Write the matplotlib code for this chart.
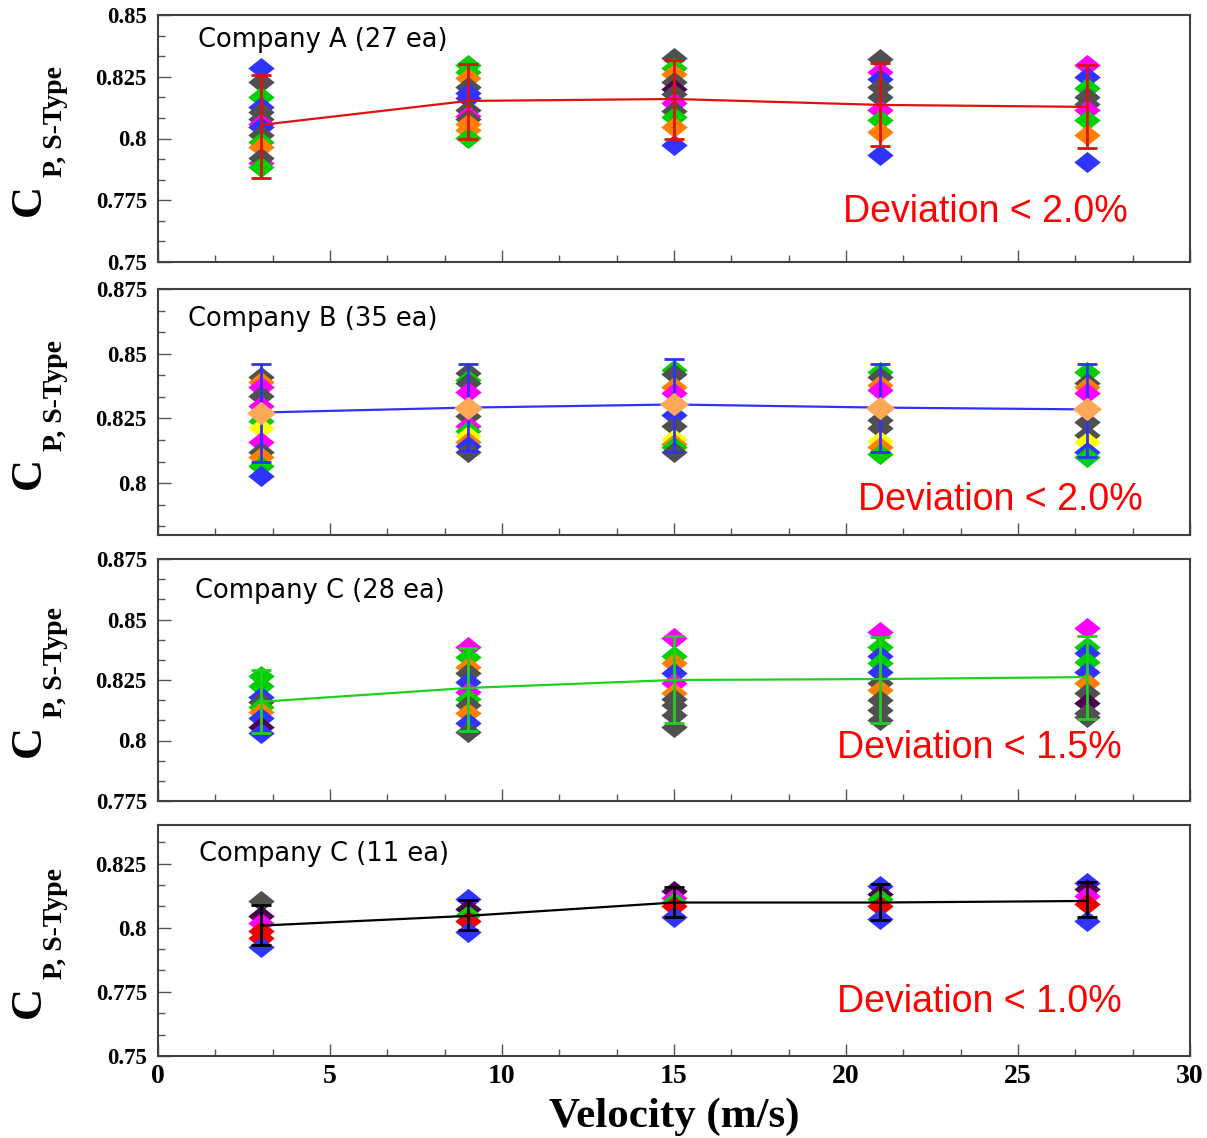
import matplotlib
matplotlib.use("Agg")
import matplotlib.pyplot as plt
from matplotlib.ticker import MultipleLocator, AutoMinorLocator, FuncFormatter

# ---------------- data ----------------
velocity = [3, 9, 15, 21, 27]

palette = {"b": "#3034ff", "k": "#505050", "g": "#00d000", "o": "#ff8000",
           "m": "#ff00ff", "p": "#4d0050", "y": "#ffff00", "r": "#ee0000"}

# Panel 1: Company A (27 ea)
A_mean = [0.8055, 0.8152, 0.8160, 0.8136, 0.8128]
A_low = [0.7840, 0.8000, 0.8000, 0.7970, 0.7960]
A_high = [0.8257, 0.8300, 0.8318, 0.8306, 0.8298]
A_values = [
    [0.8285, 0.8230, 0.8170, 0.8128, 0.8107, 0.8080, 0.8060, 0.8047, 0.8015, 0.7986, 0.7966, 0.7900, 0.7920, 0.7885],
    [0.8298, 0.8270, 0.8245, 0.8209, 0.8185, 0.8164, 0.8115, 0.8090, 0.8080, 0.8060, 0.8034, 0.8002],
    [0.8326, 0.8285, 0.8260, 0.8230, 0.8200, 0.8180, 0.8144, 0.8112, 0.8087, 0.8047, 0.7974],
    [0.8322, 0.8270, 0.8240, 0.8209, 0.8168, 0.8115, 0.8075, 0.8026, 0.7933],
    [0.8298, 0.8249, 0.8204, 0.8168, 0.8140, 0.8115, 0.8075, 0.8014, 0.7905],
]
A_colors = [
    "b k g b k k m b k g o m k g".split(),
    "g g o k b b k m k o o g".split(),
    "k g o k p k m k g o b".split(),
    "k m b k k m g o b".split(),
    "m b g k k m g o b".split(),
]

# Panel 2: Company B (35 ea)
B_mean = [0.8273, 0.8292, 0.8304, 0.8292, 0.8285]
B_low = [0.8082, 0.8123, 0.8120, 0.8120, 0.8100]
B_high = [0.8462, 0.8460, 0.8481, 0.8460, 0.8460]
B_values = [
    [0.8412, 0.8390, 0.8373, 0.8335, 0.8300, 0.8240, 0.8215, 0.8158, 0.8119, 0.8100, 0.8065, 0.8027],
    [0.8427, 0.8400, 0.8388, 0.8354, 0.8258, 0.8220, 0.8200, 0.8181, 0.8160, 0.8142, 0.8119],
    [0.8438, 0.8420, 0.8373, 0.8350, 0.8265, 0.8220, 0.8169, 0.8150, 0.8138, 0.8120],
    [0.8430, 0.8410, 0.8380, 0.8360, 0.8246, 0.8215, 0.8162, 0.8140, 0.8112],
    [0.8430, 0.8388, 0.8370, 0.8350, 0.8235, 0.8188, 0.8158, 0.8120, 0.8100],
]
B_colors = [
    "k o m k m g y m k o g b".split(),
    "k g k m k m g y o b k".split(),
    "g k o m b k y o g k".split(),
    "g k o m k k y o g".split(),
    "g k o m k k y b g".split(),
]
B_mean_marker = "#ffa858"

# Panel 3: Company C (28 ea)
C_mean = [0.8160, 0.8217, 0.8250, 0.8254, 0.8262]
C_low = [0.8032, 0.8039, 0.8072, 0.8074, 0.8089]
C_high = [0.8291, 0.8382, 0.8432, 0.8428, 0.8432]
C_values = [
    [0.8266, 0.8225, 0.8181, 0.8160, 0.8140, 0.8119, 0.8093, 0.8057, 0.8030],
    [0.8388, 0.8346, 0.8305, 0.8279, 0.8243, 0.8202, 0.8170, 0.8147, 0.8114, 0.8072, 0.8036],
    [0.8424, 0.8350, 0.8320, 0.8279, 0.8237, 0.8196, 0.8170, 0.8147, 0.8105, 0.8056],
    [0.8450, 0.8388, 0.8350, 0.8320, 0.8284, 0.8237, 0.8209, 0.8167, 0.8126, 0.8085],
    [0.8465, 0.8388, 0.8361, 0.8326, 0.8284, 0.8237, 0.8196, 0.8155, 0.8114, 0.8098],
]
C_colors = [
    "g g b k g o b p b".split(),
    "m g o k b m g k o b k".split(),
    "m g o b m o k k k k".split(),
    "m g b g b k o k k k".split(),
    "m g b g b o k p k k".split(),
]

# Panel 4: Company C (11 ea)
D_mean = [0.8008, 0.8046, 0.8098, 0.8098, 0.8104]
D_low = [0.7934, 0.7992, 0.8040, 0.8031, 0.8040]
D_high = [0.8089, 0.8108, 0.8158, 0.8170, 0.8179]
D_values = [
    [0.8104, 0.8046, 0.8020, 0.7988, 0.7960, 0.7924],
    [0.8112, 0.8073, 0.8050, 0.8027, 0.7982],
    [0.8143, 0.8117, 0.8100, 0.8085, 0.8040],
    [0.8162, 0.8131, 0.8110, 0.8085, 0.8035],
    [0.8175, 0.8150, 0.8124, 0.8093, 0.8027],
]
D_colors = [
    "k p m r r b".split(),
    "b p g r b".split(),
    "p m g r b".split(),
    "b p g r b".split(),
    "b p m r b".split(),
]

titles = ["Company A (27 ea)", "Company B (35 ea)", "Company C (28 ea)", "Company C (11 ea)"]
deviations = ["Deviation < 2.0%", "Deviation < 2.0%", "Deviation < 1.5%", "Deviation < 1.0%"]
line_colors = ["#e01010", "#3030ff", "#20d020", "#000000"]
ylims = [(0.75, 0.85), (0.78, 0.875), (0.775, 0.875), (0.75, 0.84)]
yticks = [[0.75, 0.775, 0.8, 0.825, 0.85],
          [0.8, 0.825, 0.85, 0.875],
          [0.775, 0.8, 0.825, 0.85, 0.875],
          [0.75, 0.775, 0.8, 0.825]]
xticks = [0, 5, 10, 15, 20, 25, 30]

means = [A_mean, B_mean, C_mean, D_mean]
lows = [A_low, B_low, C_low, D_low]
highs = [A_high, B_high, C_high, D_high]
values = [A_values, B_values, C_values, D_values]
colors = [A_colors, B_colors, C_colors, D_colors]
mean_markers = [None, B_mean_marker, None, None]

# ---------------- layout ----------------
W, H = 1207, 1138
fig = plt.figure(figsize=(W / 100, H / 100), dpi=100)

# (top, bottom) in pixels
boxes = [(15, 262), (289, 535), (559, 801), (825, 1056)]
left_px, right_px = 158, 1190
title_pos = [(198, 40), (188, 319), (195, 591), (199, 854)]
dev_pos = [(1128, 212), (1143, 500), (1122, 748), (1122, 1002)]

diamond = [(-1, 0), (0, 0.8), (1, 0), (0, -0.8), (-1, 0)]
serif_bold = dict(family="Liberation Serif", weight="bold")

for i in range(4):
    top, bot = boxes[i]
    ax = fig.add_axes([left_px / W, 1 - bot / H, (right_px - left_px) / W, (bot - top) / H])
    # individual samples
    for j, v in enumerate(velocity):
        for val, c in zip(values[i][j], colors[i][j]):
            ax.plot([v], [val], linestyle="none", marker=diamond, markersize=19,
                    color=palette[c], markeredgewidth=0, zorder=2)
    # mean line with error bars
    yerr = [[m - lo for m, lo in zip(means[i], lows[i])],
            [hi - m for m, hi in zip(means[i], highs[i])]]
    ax.errorbar(velocity, means[i], yerr=yerr, color=line_colors[i], linewidth=1.6,
                elinewidth=2.0, capsize=7, capthick=2.0, zorder=3)
    if mean_markers[i]:
        ax.plot(velocity, means[i], linestyle="none", marker=diamond, markersize=21,
                color=mean_markers[i], markeredgewidth=0, zorder=4)

    ax.set_xlim(0, 30)
    ax.set_ylim(*ylims[i])
    ax.set_xticks(xticks)
    ax.xaxis.set_minor_locator(AutoMinorLocator(3))
    ax.set_yticks(yticks[i])
    ax.yaxis.set_minor_locator(MultipleLocator(0.025 / 3))
    ax.yaxis.set_major_formatter(FuncFormatter(lambda x, p: ("%g" % round(x, 4))))
    ax.tick_params(which="both", direction="in", top=False, right=False,
                   color="#555555", width=1.0)
    ax.tick_params(which="major", length=9)
    ax.tick_params(which="minor", length=5)
    ax.tick_params(axis="y", labelsize=16.5, pad=8)
    ax.tick_params(axis="x", labelsize=20, pad=6)
    for lab in ax.get_yticklabels() + ax.get_xticklabels():
        lab.set_fontfamily("Liberation Serif")
        lab.set_fontweight("bold")
    if i < 3:
        ax.tick_params(axis="x", labelbottom=False)
    for sp in ax.spines.values():
        sp.set_color("#404040")
        sp.set_linewidth(1.5)

    # panel title and deviation note
    tx, ty = title_pos[i]
    fig.text(tx / W, 1 - ty / H, titles[i], fontsize=18.5, family="DejaVu Sans",
             ha="left", va="center", color="black")
    dx, dy = dev_pos[i]
    fig.text(dx / W, 1 - dy / H, deviations[i], fontsize=27,
             family="Liberation Sans", ha="right",
             va="center", color="#ff0000")

    # y label: C with subscript
    ymid = 1 - (top + bot) / 2 / H
    fig.text(29 / W, ymid - 61 / H, "C", fontsize=32, rotation=90,
             ha="center", va="center", **serif_bold)
    fig.text(56 / W, ymid + 17 / H, "P, S-Type", fontsize=20, rotation=90,
             ha="center", va="center", **serif_bold)

fig.text(674 / W, 1 - 1117 / H, "Velocity (m/s)", fontsize=31, ha="center",
         va="center", **serif_bold)

fig.savefig("out.png", dpi=100)
